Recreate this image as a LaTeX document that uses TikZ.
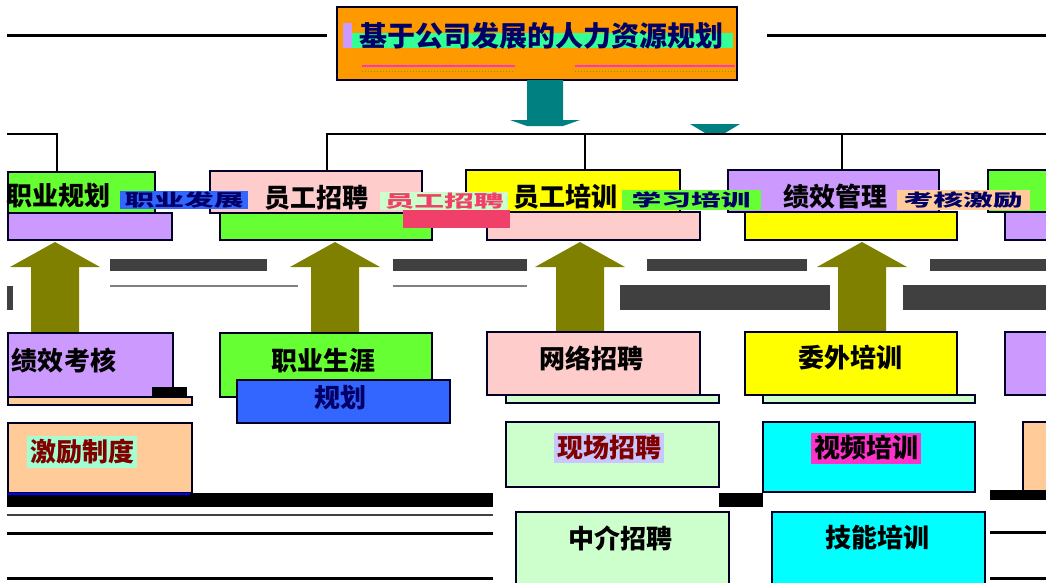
\documentclass[tikz,border=0pt]{standalone}
\usepackage{fontspec}
\setmainfont{Noto Sans CJK SC}
\usepackage{graphicx}
\usetikzlibrary{calc}
\definecolor{orng}{HTML}{FF9900}
\definecolor{tealc}{HTML}{008080}
\definecolor{grn}{HTML}{66FF33}
\definecolor{pnk}{HTML}{FFCCCC}
\definecolor{ylw}{HTML}{FFFF00}
\definecolor{prp}{HTML}{CC99FF}
\definecolor{pch}{HTML}{FFCC99}
\definecolor{lgrn}{HTML}{CCFFCC}
\definecolor{cyn}{HTML}{00FFFF}
\definecolor{blu}{HTML}{3366FF}
\definecolor{olv}{HTML}{808000}
\definecolor{dgr}{HTML}{404040}
\definecolor{navy}{HTML}{000066}
\definecolor{drd}{HTML}{800000}
\definecolor{mint}{HTML}{33FF99}
\definecolor{crim}{HTML}{F0406A}
\definecolor{mgt}{HTML}{FF33CC}
\definecolor{lav}{HTML}{C8C8FF}
\newcommand\bx[6]{\node[box,fill=#2,anchor=north west,minimum width=#5pt,minimum height=#6pt] (#1) at (#3,#4) {};}
\newcommand\upar[1]{\fill[olv] (#1) ++(-24,0) -- ++(0,-65) -- ++(-21,0) -- ++(45,-25) -- ++(45,25) -- ++(-21,0) -- ++(0,65) -- cycle;}
\begin{document}
\begin{tikzpicture}[x=1pt,y=-1pt,
  box/.style={draw=black!85!blue,line width=1.2pt,inner sep=0pt,outer sep=0pt},
  band/.style={draw=black!85!blue,line width=1pt,inner sep=0pt,outer sep=0pt},
  tx/.style={inner sep=0pt,font=\fontsize{26}{26}\selectfont\bfseries,text=black},
  ov/.style={inner sep=1pt,text=navy},
  brk/.style={line width=1.3pt,draw=black},
  rule/.style={line width=3pt,draw=black}]
\useasboundingbox (0,0) rectangle (1046,582);
\clip (0,0) rectangle (1046,582);

% top rules
\coordinate (r1) at (7,35); \coordinate (r2) at (327,35);
\coordinate (r3) at (767,35); \coordinate (r4) at (1046,35);
\draw[rule] (r1) -- (r2);
\draw[rule] (r3) -- (r4);

% title box
\bx{top}{orng}{337}{7}{400}{73}
\fill[mint] (343,33) rectangle (733,48);
\fill[prp] (343,23) rectangle (352,48);
\draw[line width=2.5pt,draw=mgt] (362,66) -- (515,66);
\draw[line width=2.5pt,draw=mgt] (575,66) -- (735,66);
\draw[line width=1pt,draw=grn!70!black,dotted] (362,71) -- (515,71);
\draw[line width=1pt,draw=grn!70!black,dotted] (575,71) -- (735,71);
\node[tx,font=\fontsize{28}{28}\selectfont\bfseries,text=navy] (title) at (541,36) {基于公司发展的人力资源规划};

% teal arrow
\coordinate (ta) at (545,80);
\fill[tealc] (ta) ++(-18,0) -- ++(0,40) -- ++(-17,0) -- ++(17,6) -- ++(36,0) -- ++(17,-6) -- ++(-17,0) -- ++(0,-40) -- cycle;
\coordinate (tb) at (715,124);
\fill[tealc] (tb) ++(-25,0) -- ++(15,9) -- ++(20,0) -- ++(15,-9) -- cycle;

% top row bands (lower halves)
\bx{u1}{prp}{8}{213}{164}{27}
\bx{u2}{grn}{220}{212}{212}{28}
\bx{u3}{pnk}{487}{212}{213}{28}
\bx{u4}{ylw}{745}{212}{212}{28}
\bx{u5}{prp}{1005}{212}{60}{28}

% top row boxes
\bx{t1}{grn}{8}{172}{147}{41}
\bx{t2}{pnk}{210}{171}{212}{42}
\bx{t3}{ylw}{466}{170}{214}{42}
\bx{t4}{prp}{728}{170}{211}{42}
\bx{t5}{grn}{988}{170}{80}{42}

% bracket
\coordinate (j0) at (7,134); \coordinate (j1) at (57,134);
\coordinate (j2) at (327,134); \coordinate (j3) at (585,134);
\coordinate (j4) at (842,134); \coordinate (j5) at (1046,134);
\draw[brk] (j0) -- (j1) -- (j1 |- t1.north);
\draw[brk] (j2 |- t2.north) -- (j2) -- (j5);
\draw[brk] (j3) -- (j3 |- t3.north);
\draw[brk] (j4) -- (j4 |- t4.north);

% top row texts
\node[tx] (tt1) at (58,196) {职业规划};
\node[tx] (tt2) at (316,198) {员工招聘};
\node[tx] (tt3) at (565,197) {员工培训};
\node[tx] (tt4) at (835,197) {绩效管理};

% overlay captions
\fill[crim] (403,210) rectangle (510,228);
\node[ov,fill=blu,minimum width=128pt,minimum height=17pt] (o1) at (184,200) {\scalebox{1.75}[1]{\fontsize{17}{17}\selectfont\bfseries 职业发展}};
\node[ov,fill=lgrn,minimum width=128pt,minimum height=18pt,text=crim] (o2) at (444,201) {\scalebox{1.75}[1]{\fontsize{17}{17}\selectfont\bfseries 员工招聘}};
\node[ov,fill=grn,minimum width=139pt,minimum height=20pt] (o3) at (691,200) {\scalebox{1.75}[1]{\fontsize{17}{17}\selectfont\bfseries 学习培训}};
\node[ov,fill=pch,minimum width=133pt,minimum height=20pt] (o4) at (963,200) {\scalebox{1.75}[1]{\fontsize{17}{17}\selectfont\bfseries 考核激励}};

% dark bars
\fill[dgr] (110,259) rectangle (267,271);
\fill[dgr] (393,259) rectangle (527,271);
\fill[dgr] (647,259) rectangle (807,271);
\fill[dgr] (930,259) rectangle (1046,271);
\draw[line width=2pt,draw=gray] (110,286) -- (298,286);
\draw[line width=2pt,draw=gray] (393,286) -- (527,286);
\fill[dgr] (620,285) rectangle (830,310);
\fill[dgr] (903,285) rectangle (1046,310);
\fill[dgr] (7,286) rectangle (13,310);

% olive arrows
\coordinate (a1) at (55,332);
\coordinate (a2) at (335,332);
\coordinate (a3) at (580,332);
\coordinate (a4) at (862,332);
\upar{a1}
\upar{a2}
\upar{a3}
\upar{a4}

% column 1
\bx{s1}{pch}{8}{397}{184}{8}
\bx{b1}{prp}{8}{333}{165}{64}
\fill[black] (152,387) rectangle (187,397);
\node[tx] (tb1) at (64,361) {绩效考核};
\bx{b2}{pch}{8}{423}{184}{70}
\node[tx,fill=mint!45,inner sep=3pt,text=drd] (tb2) at (82,452) {激励制度};

% column 2
\bx{c1}{grn}{220}{333}{212}{64}
\node[tx] (tc1) at (323,361) {职业生涯};
\bx{c2}{blu}{237}{380}{213}{43}
\node[tx,text=navy] (tc2) at (340,398) {规划};

% column 3
\bx{s3}{lgrn}{506}{395}{213}{8}
\bx{d1}{pnk}{487}{332}{213}{63}
\node[tx] (td1) at (591,358) {网络招聘};
\bx{d2}{lgrn}{506}{422}{213}{65}
\node[tx,fill=lav,inner sep=3pt,text=drd] (td2) at (609,448) {现场招聘};
\bx{d3}{lgrn}{516}{512}{213}{80}
\node[tx] (td3) at (620,538) {中介招聘};

% column 4
\bx{s4}{lgrn}{763}{395}{212}{8}
\bx{e1}{ylw}{745}{332}{212}{63}
\node[tx] (te1) at (850,358) {委外培训};
\bx{e2}{cyn}{763}{422}{212}{70}
\node[tx,fill=mgt,inner sep=3pt] (te2) at (866,448) {视频培训};
\bx{e3}{cyn}{772}{512}{213}{80}
\node[tx] (te3) at (877,538) {技能培训};

% column 5 (partial)
\bx{f1}{prp}{1005}{332}{60}{63}
\bx{f2}{pch}{1023}{422}{60}{70}

% bottom bars
\fill[black] (7,493) rectangle (493,507);
\draw[line width=2pt,draw=blue] (8,494) -- (190,494);
\fill[black] (719,493) rectangle (763,507);
\fill[black] (990,490) rectangle (1046,500);
\draw[line width=2pt,draw=dgr] (7,515) -- (493,515);
\draw[line width=3pt,draw=black] (7,533) -- (493,533);
\draw[line width=3pt,draw=black] (990,532) -- (1046,532);
\draw[line width=3pt,draw=black] (7,578) -- (493,578);
\draw[line width=3pt,draw=black] (990,578) -- (1046,578);
\end{tikzpicture}
\end{document}
